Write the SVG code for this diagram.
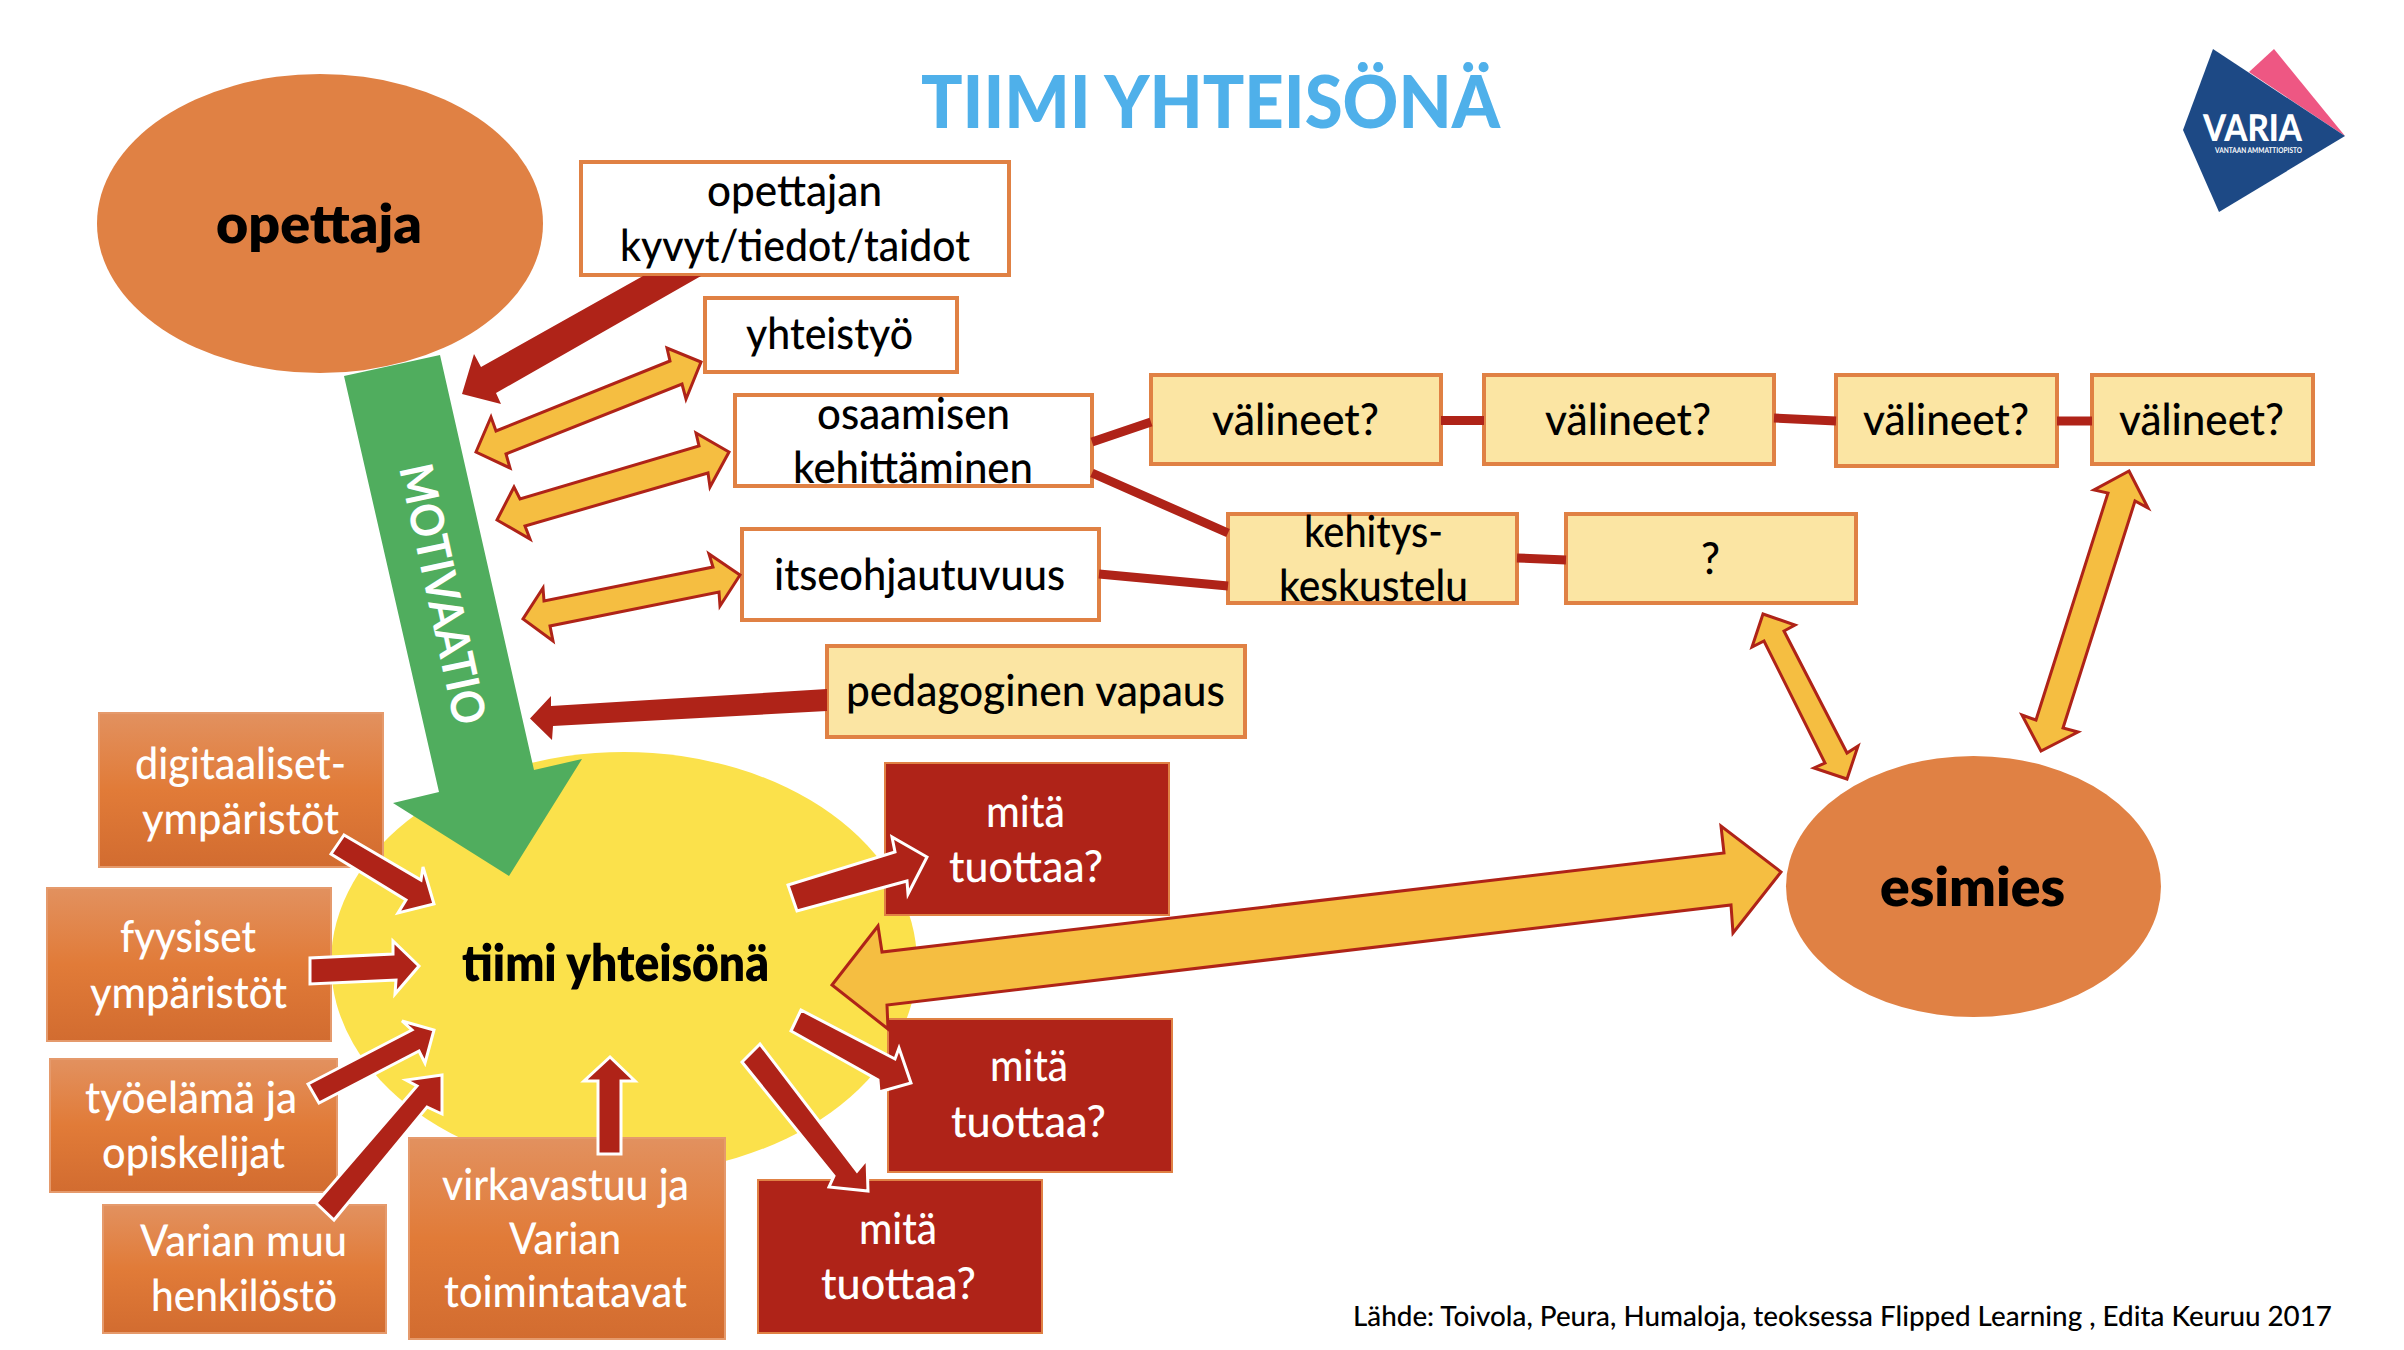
<svg xmlns="http://www.w3.org/2000/svg" width="2404" height="1350" viewBox="0 0 2404 1350">
<style>
text{font-family:Lato,"Open Sans","Liberation Sans",sans-serif;font-size:44px;font-weight:500;fill:#000;text-rendering:geometricPrecision}
.w{fill:#fff}
.b{font-weight:800;font-size:54px}
.wb{fill:#fff;stroke:#E08144;stroke-width:4}
.lb{fill:#FBE5A3;stroke:#E08144;stroke-width:4}
.ob{fill:url(#og);stroke:#E59A6C;stroke-width:2}
.rb{fill:#AF2318;stroke:#E08144;stroke-width:2}
.el{fill:#E08144}
.ln{stroke:#AF2318;stroke-width:9;fill:none}
.ya{fill:#F5BE41;stroke:#AF2318;stroke-width:3;stroke-linejoin:miter}
.ra{fill:#AF2318;stroke:#fff;stroke-width:3}
.rs{fill:#AF2318}
</style>
<defs>
<linearGradient id="og" x1="0" y1="0" x2="0" y2="1">
<stop offset="0" stop-color="#E2915F"/><stop offset="0.5" stop-color="#E17B38"/><stop offset="1" stop-color="#D26C30"/>
</linearGradient>
</defs>
<rect width="2404" height="1350" fill="#fff"/>
<text id="title" class="b" x="921" y="128" style="font-size:73px;font-weight:900;fill:#4FB0EA" textLength="579" lengthAdjust="spacingAndGlyphs">TIIMI YHTEISÖNÄ</text>

<g id="logo">
<polygon points="2274,49 2345,136 2249,72" fill="#EE5783"/>
<polygon points="2213,49 2345,136 2219,212 2183,130" fill="#1D4985"/>
<text x="2203" y="141" style="font-size:37px;font-weight:900;fill:#fff" textLength="99" lengthAdjust="spacingAndGlyphs">VARIA</text>
<text x="2215" y="153" style="font-size:8px;font-weight:700;fill:#fff" textLength="87" lengthAdjust="spacingAndGlyphs">VANTAAN AMMATTIOPISTO</text>
</g>

<g id="tiimi">
<ellipse cx="624" cy="963" rx="293" ry="211" fill="#FBE14B"/>
<text class="b" style="font-size:51px" x="462" y="981" textLength="307" lengthAdjust="spacingAndGlyphs">tiimi yhteisönä</text>
</g>
<g id="opettaja">
<ellipse class="el" cx="320" cy="223.500" rx="223" ry="149.500"/>
<text class="b" x="216" y="243" textLength="206" lengthAdjust="spacingAndGlyphs">opettaja</text>
</g>
<g id="esimies">
<ellipse class="el" cx="1973.500" cy="886.500" rx="187.500" ry="130.500"/>
<text class="b" x="1880" y="906" textLength="185" lengthAdjust="spacingAndGlyphs">esimies</text>
</g>
<g id="motivaatio">
<polygon points="344,376 440,355 534,770 582,759 509,876 393,803 439,792" fill="#50AD5E"/>
<text transform="translate(399,468) rotate(77.800)" x="0" y="0" style="font-size:46px;font-weight:700;fill:#fff" textLength="265" lengthAdjust="spacingAndGlyphs">MOTIVAATIO</text>
</g>

<g id="n-kyvyt"><rect class="wb" x="581" y="162" width="428" height="113"/>
<text x="707" y="206" textLength="175" lengthAdjust="spacingAndGlyphs">opettajan</text>
<text x="620" y="261" textLength="350" lengthAdjust="spacingAndGlyphs">kyvyt/tiedot/taidot</text></g>
<g id="n-yhteistyo"><rect class="wb" x="705" y="298" width="252" height="74"/>
<text x="746" y="349" textLength="167" lengthAdjust="spacingAndGlyphs">yhteistyö</text></g>
<g id="n-osaamisen"><rect class="wb" x="735" y="395" width="357" height="91"/>
<text x="817" y="429" textLength="193" lengthAdjust="spacingAndGlyphs">osaamisen</text>
<text x="793" y="483" textLength="240" lengthAdjust="spacingAndGlyphs">kehittäminen</text></g>
<g id="n-itseohj"><rect class="wb" x="742" y="529" width="357" height="91"/>
<text x="774" y="590" textLength="291" lengthAdjust="spacingAndGlyphs">itseohjautuvuus</text></g>
<g id="n-pedagoginen"><rect class="lb" x="827" y="646" width="418" height="91"/>
<text x="846" y="706" textLength="379" lengthAdjust="spacingAndGlyphs">pedagoginen vapaus</text></g>

<g id="n-val1"><rect class="lb" x="1151" y="375" width="290" height="89"/>
<text x="1212" y="435" textLength="167" lengthAdjust="spacingAndGlyphs">välineet?</text></g>
<g id="n-val2"><rect class="lb" x="1484" y="375" width="290" height="89"/>
<text x="1545" y="435" textLength="166" lengthAdjust="spacingAndGlyphs">välineet?</text></g>
<g id="n-val3"><rect class="lb" x="1836" y="375" width="221" height="91"/>
<text x="1863" y="435" textLength="166" lengthAdjust="spacingAndGlyphs">välineet?</text></g>
<g id="n-val4"><rect class="lb" x="2092" y="375" width="221" height="89"/>
<text x="2119" y="435" textLength="165" lengthAdjust="spacingAndGlyphs">välineet?</text></g>
<g id="n-kehitys"><rect class="lb" x="1228" y="514" width="289" height="89"/>
<text x="1304" y="547" textLength="139" lengthAdjust="spacingAndGlyphs">kehitys-</text>
<text x="1279" y="601" textLength="189" lengthAdjust="spacingAndGlyphs">keskustelu</text></g>
<g id="n-q"><rect class="lb" x="1566" y="514" width="290" height="89"/>
<text x="1701" y="574" textLength="19" lengthAdjust="spacingAndGlyphs">?</text></g>

<g id="n-digi"><rect class="ob" x="99" y="713" width="284" height="154"/>
<text class="w" x="135" y="779" textLength="211" lengthAdjust="spacingAndGlyphs">digitaaliset-</text>
<text class="w" x="142" y="834" textLength="197" lengthAdjust="spacingAndGlyphs">ympäristöt</text></g>
<g id="n-fyysiset"><rect class="ob" x="47" y="888" width="284" height="153"/>
<text class="w" x="120" y="952" textLength="136" lengthAdjust="spacingAndGlyphs">fyysiset</text>
<text class="w" x="90" y="1008" textLength="197" lengthAdjust="spacingAndGlyphs">ympäristöt</text></g>
<g id="n-tyoelama"><rect class="ob" x="50" y="1059" width="287" height="133"/>
<text class="w" x="85" y="1113" textLength="212" lengthAdjust="spacingAndGlyphs">työelämä ja</text>
<text class="w" x="102" y="1168" textLength="183" lengthAdjust="spacingAndGlyphs">opiskelijat</text></g>
<g id="n-henkilosto"><rect class="ob" x="103" y="1205" width="283" height="128"/>
<text class="w" x="140" y="1256" textLength="207" lengthAdjust="spacingAndGlyphs">Varian muu</text>
<text class="w" x="151" y="1311" textLength="186" lengthAdjust="spacingAndGlyphs">henkilöstö</text></g>
<g id="n-virka"><rect class="ob" x="409" y="1138" width="316" height="201"/>
<text class="w" x="442" y="1200" textLength="247" lengthAdjust="spacingAndGlyphs">virkavastuu ja</text>
<text class="w" x="509" y="1254" textLength="112" lengthAdjust="spacingAndGlyphs">Varian</text>
<text class="w" x="444" y="1307" textLength="243" lengthAdjust="spacingAndGlyphs">toimintatavat</text></g>

<g id="n-mita1"><rect class="rb" x="885" y="763" width="284" height="152"/>
<text class="w" x="986" y="827" textLength="79" lengthAdjust="spacingAndGlyphs">mitä</text>
<text class="w" x="949" y="882" textLength="154" lengthAdjust="spacingAndGlyphs">tuottaa?</text></g>
<g id="n-mita2"><rect class="rb" x="888" y="1019" width="284" height="153"/>
<text class="w" x="990" y="1081" textLength="78" lengthAdjust="spacingAndGlyphs">mitä</text>
<text class="w" x="951" y="1137" textLength="155" lengthAdjust="spacingAndGlyphs">tuottaa?</text></g>
<g id="n-mita3"><rect class="rb" x="758" y="1180" width="284" height="153"/>
<text class="w" x="859" y="1244" textLength="78" lengthAdjust="spacingAndGlyphs">mitä</text>
<text class="w" x="821" y="1299" textLength="155" lengthAdjust="spacingAndGlyphs">tuottaa?</text></g>

<g id="connectors">
<path class="ln" d="M1092,442L1151,422M1092,473L1228,533M1099,574L1228,586M1441,420.500H1484M1774,418L1836,421M2057,421H2092M1517,558L1566,560"/>
<polygon class="rs" points="643,276 701,276 496,393 501,404 462,394 474,354 481,367"/>
<polygon class="rs" points="827,689 827,711 553,726 552,740 530,718.500 551,696 551,706"/>
<polygon class="ya" points="701,362 667,348 670,361 496,431 491,417 476,452 510,468 506,454 682,384 686,399"/>
<polygon class="ya" points="729,452 696,433 699,446 520,499 514,487 497,520 530,539 525,526 708,473 710,487"/>
<polygon class="ya" points="740,575 709,554 713,567 544,601 543,588 523,619 553,641 550,626 719,592 720,606"/>
<polygon class="ya" points="1763,614 1795,625 1784,631 1847,753 1858,746 1847,779 1814,768 1825,763 1764,641 1752,647"/>
<polygon class="ya" points="2129,471 2148,508 2135,501 2063,728 2078,732 2041,751 2022,715 2036,720 2108,493 2094,490"/>
<polygon class="ya" points="832,985 878,926 882,952 1724,853 1721,826 1781,872 1733,933 1731,905 887,1005 888,1029"/>
<polygon class="ra" points="344,835 331,854 406,900 398,913 434,904 423,867 421,880"/>
<polygon class="ra" points="310,958 310,984 396,980 395,994 419,966 393,941 393,954"/>
<polygon class="ra" points="308,1084 319,1103 419,1051 425,1063 434,1030 402,1021 412,1030"/>
<polygon class="ra" points="316,1203 334,1220 427,1107 442,1114 442,1075 406,1080 417,1086"/>
<polygon class="ra" points="598,1154 621,1154 621,1081 635,1081 610,1057 584,1081 598,1081"/>
<polygon class="ra" points="788,885 797,911 907,881 908,894 927,857 892,837 895,852"/>
<polygon class="ra" points="801,1010 791,1031 878,1080 879,1092 911,1083 899,1048 895,1059"/>
<polygon class="ra" points="760,1044 742,1062 834,1176 829,1187 868,1191 867,1159 857,1171"/>
</g>

<text id="source" style="font-size:28px" x="1353" y="1326" textLength="979" lengthAdjust="spacingAndGlyphs">Lähde: Toivola, Peura, Humaloja, teoksessa Flipped Learning , Edita Keuruu 2017</text>
</svg>
